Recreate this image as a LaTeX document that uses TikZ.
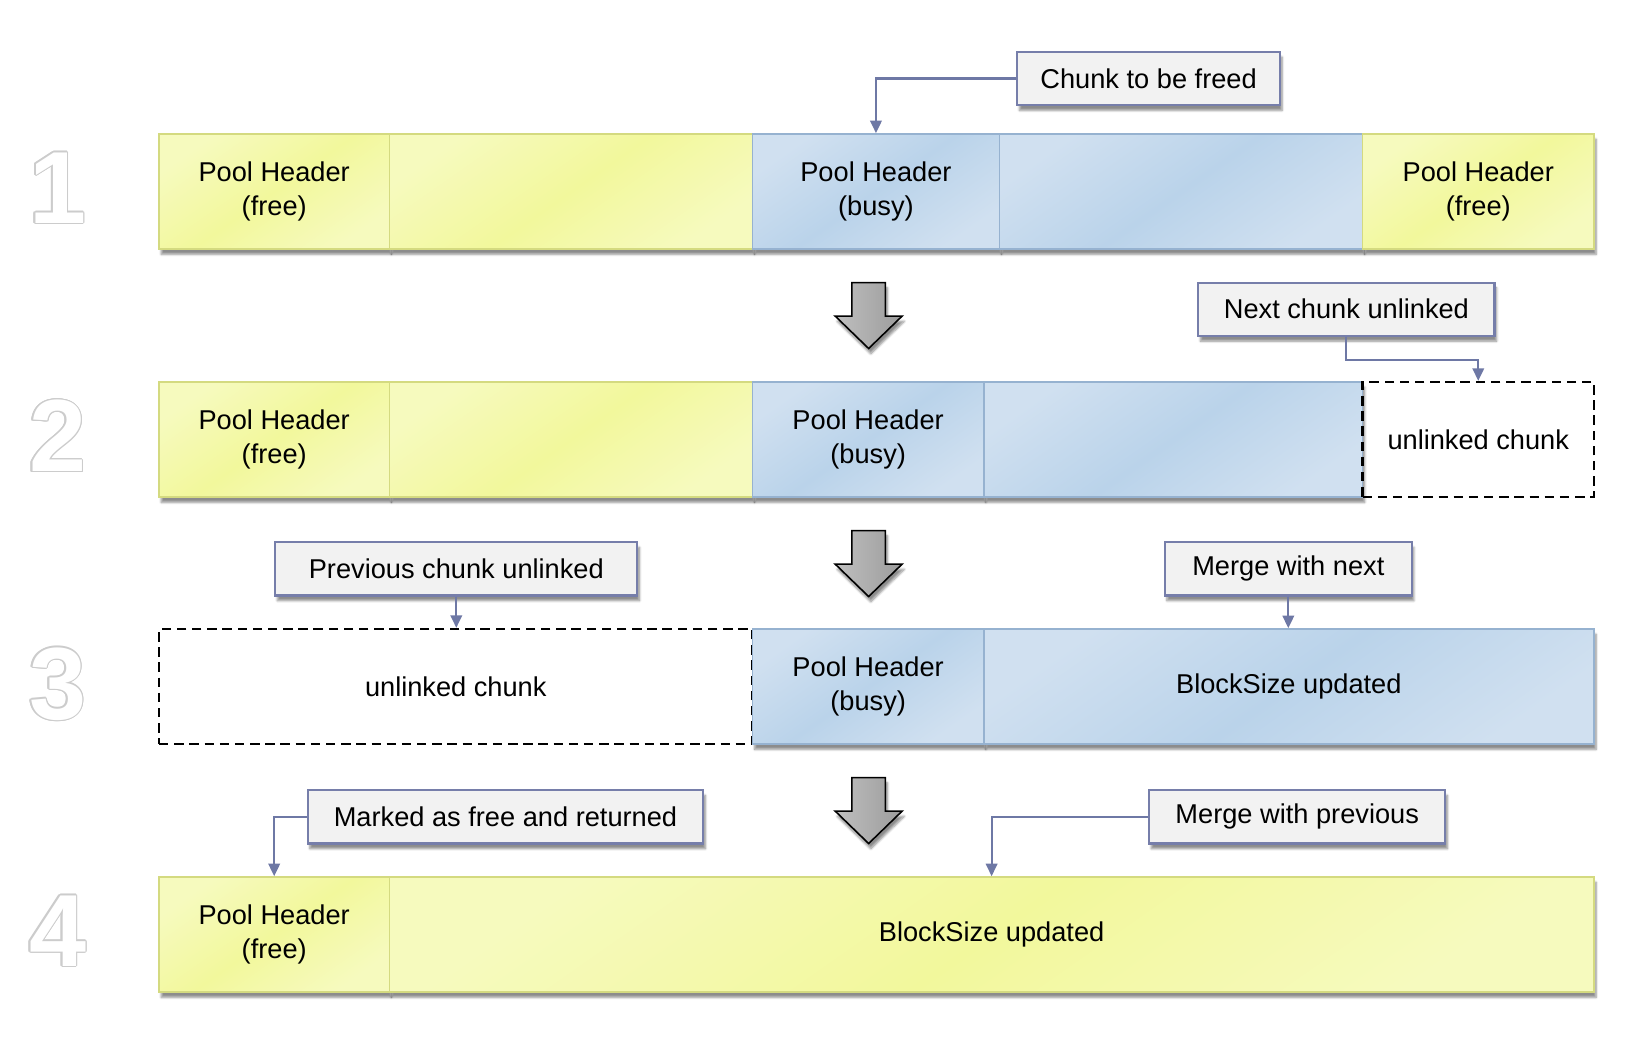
\documentclass[tikz,border=0pt]{standalone}
\usepackage{fontspec}
\setmainfont{Liberation Sans}
\usepackage{contour}
\usetikzlibrary{shadows.blur,arrows.meta}
\definecolor{ymid}{RGB}{242,248,156}
\definecolor{ylight}{RGB}{246,250,190}
\definecolor{yline}{RGB}{212,218,128}
\definecolor{bmid}{RGB}{186,211,234}
\definecolor{blight}{RGB}{208,224,240}
\definecolor{bline}{RGB}{150,178,208}
\definecolor{cfill}{RGB}{242,242,242}
\definecolor{cline}{RGB}{118,126,170}
\definecolor{conncol}{RGB}{110,120,165}
\contourlength{1.1pt}
\begin{document}
\begin{tikzpicture}[x=1pt,y=-1pt,
  font=\fontsize{26}{32}\selectfont,
  shadowed/.style={blur shadow={shadow xshift=2pt,shadow yshift=-5pt,shadow blur steps=6,shadow opacity=45}},
  ybox/.style={shadowed, draw=yline, line width=1.5pt, left color=ylight, right color=ylight, middle color=ymid, shading angle=35, minimum height=110pt, inner sep=0pt, align=center},
  bbox/.style={shadowed, draw=bline, line width=1.5pt, left color=blight, right color=blight, middle color=bmid, shading angle=35, minimum height=110pt, inner sep=0pt, align=center},
  dbox/.style={draw=black, line width=2.2pt, dash pattern=on 9pt off 5.5pt, minimum height=110pt, inner sep=0pt, align=center},
  callout/.style={shadowed, draw=cline, fill=cfill, line width=2pt, minimum height=51pt, inner sep=0pt},
  conn/.style={draw=conncol, line width=2pt, -{Triangle[width=11pt,length=12pt]}},
  bigarrow/.style={shadowed, draw=black, line width=1.5pt, left color=gray!50, right color=gray!78},
  num/.style={font=\fontsize{98}{98}\selectfont\bfseries, inner sep=0pt}
]
\useasboundingbox (0,0) rectangle (1568,994.7);

% step numbers
\node[num] (n1) at (55,180) {\contour{gray!40}{\textcolor{white}{1}}};
\node[num] (n2) at (55,417) {\contour{gray!40}{\textcolor{white}{2}}};
\node[num] (n3) at (55,654) {\contour{gray!40}{\textcolor{white}{3}}};
\node[num] (n4) at (55,890) {\contour{gray!40}{\textcolor{white}{4}}};

% row 1
\node[ybox, minimum width=220pt] (r1a) at (262,183) {Pool Header\\(free)};
\node[ybox, minimum width=347pt] (r1b) at (545.5,183) {};
\node[bbox, minimum width=236pt] (r1c) at (837,183) {Pool Header\\(busy)};
\node[bbox, minimum width=347pt] (r1d) at (1128.5,183) {};
\node[ybox, minimum width=221pt] (r1e) at (1412.5,183) {Pool Header\\(free)};

% row 2
\node[ybox, minimum width=220pt] (r2a) at (262,420) {Pool Header\\(free)};
\node[ybox, minimum width=347pt] (r2b) at (545.5,420) {};
\node[bbox, minimum width=221pt] (r2c) at (829.5,420) {Pool Header\\(busy)};
\node[bbox, minimum width=362pt] (r2d) at (1121,420) {};
\node[dbox, minimum width=221pt] (r2e) at (1412.5,420) {unlinked chunk};

% row 3
\node[dbox, minimum width=567pt] (r3a) at (435.5,656) {unlinked chunk};
\node[bbox, minimum width=221pt] (r3b) at (829.5,656) {Pool Header\\(busy)};
\node[bbox, minimum width=583pt] (r3c) at (1231.5,656) {BlockSize updated};

% row 4
\node[ybox, minimum width=220pt] (r4a) at (262,893) {Pool Header\\(free)};
\node[ybox, minimum width=1151pt] (r4b) at (947.5,893) {BlockSize updated};

% big arrows
\foreach \t in {270,507,743}{
  \path[bigarrow] (814,\t) -- (846,\t) -- (846,\t+32) -- (862,\t+32) -- (830,\t+63) -- (798,\t+32) -- (814,\t+32) -- cycle;
}

% callouts
\node[callout, minimum width=251pt] (cb1) at (1097.5,75) {Chunk to be freed};
\node[callout, minimum width=283pt] (nc) at (1286.5,295.5) {Next chunk unlinked};
\node[callout, minimum width=346pt] (pc) at (436,543.5) {Previous chunk unlinked};
\node[callout, minimum width=236pt] (mn) at (1231,543.5) {Merge with next};
\node[callout, minimum width=378pt] (mf) at (483,780.5) {Marked as free and returned};
\node[callout, minimum width=283pt] (mp) at (1239.5,780.5) {Merge with previous};

% connectors
\draw[conn] (cb1.west) -| (r1c.north);
\draw[conn] (nc.south) -- ++(0,22) -| (r2e.north);
\draw[conn] (pc.south) -- (pc.south |- r3a.north);
\draw[conn] (mn.south) -- (mn.south |- r3c.north);
\draw[conn] (mf.west) -| (r4a.north);
\draw[conn] (mp.west) -| (r4b.north);
\end{tikzpicture}
\end{document}
